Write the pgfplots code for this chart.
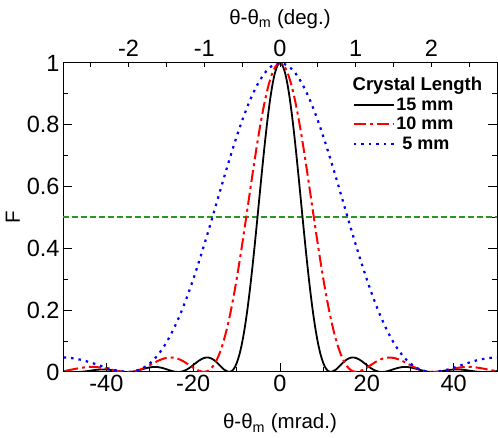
\documentclass[border=0pt]{standalone}
\usepackage{fontspec}
\setmainfont{Liberation Sans}
\usepackage{pgfplots}
\pgfplotsset{compat=1.18}
\usepackage{pgfplotstable}
\pgfplotstableread{
u F
-4.30 0.00359
-4.20 0.00198
-4.10 0.00058
-4.00 0
-3.90 0.00064
-3.80 0.00242
-3.70 0.00484
-3.60 0.00707
-3.50 0.00827
-3.40 0.00793
-3.30 0.00609
-3.20 0.00342
-3.10 0.00101
-3.00 0
-2.90 0.00115
-2.80 0.00447
-2.70 0.00910
-2.60 0.01356
-2.50 0.01621
-2.40 0.01591
-2.30 0.01254
-2.20 0.00723
-2.10 0.00219
-2.00 0
-1.90 0.00268
-1.80 0.01080
-1.70 0.02295
-1.60 0.03580
-1.50 0.04503
-1.40 0.04676
-1.30 0.03924
-1.20 0.02431
-1.10 0.00800
-1.00 0
-0.95 0.00275
-0.90 0.01194
-0.85 0.02890
-0.80 0.05470
-0.75 0.09006
-0.70 0.13534
-0.65 0.19038
-0.60 0.25457
-0.55 0.32675
-0.50 0.40528
-0.45 0.48811
-0.40 0.57279
-0.35 0.65665
-0.30 0.73684
-0.25 0.81057
-0.20 0.87514
-0.15 0.92814
-0.10 0.96753
-0.05 0.99179
0.00 1
0.05 0.99179
0.10 0.96753
0.15 0.92814
0.20 0.87514
0.25 0.81057
0.30 0.73684
0.35 0.65665
0.40 0.57279
0.45 0.48811
0.50 0.40528
0.55 0.32675
0.60 0.25457
0.65 0.19038
0.70 0.13534
0.75 0.09006
0.80 0.05470
0.85 0.02890
0.90 0.01194
0.95 0.00275
1.00 0
1.10 0.00800
1.20 0.02431
1.30 0.03924
1.40 0.04676
1.50 0.04503
1.60 0.03580
1.70 0.02295
1.80 0.01080
1.90 0.00268
2.00 0
2.10 0.00219
2.20 0.00723
2.30 0.01254
2.40 0.01591
2.50 0.01621
2.60 0.01356
2.70 0.00910
2.80 0.00447
2.90 0.00115
3.00 0
3.10 0.00101
3.20 0.00342
3.30 0.00609
3.40 0.00793
3.50 0.00827
3.60 0.00707
3.70 0.00484
3.80 0.00242
3.90 0.00064
4.00 0
4.10 0.00058
4.20 0.00198
4.30 0.00359
}\sinctab
\definecolor{hgreen}{RGB}{40,150,40}
\begin{document}
\begin{tikzpicture}
\begin{axis}[name=main, scale only axis, width=434pt, height=309pt,
  xmin=-50, xmax=50, ymin=0, ymax=1,
  xtick={-40,-20,0,20,40}, minor xtick={-30,-10,10,30},
  ytick={0,0.2,0.4,0.6,0.8,1}, minor ytick={0.1,0.3,0.5,0.7,0.9},
  xtick pos=bottom, ytick pos=both,
  tick align=inside, major tick length=9pt, minor tick length=5pt,
  tick label style={font=\fontsize{23.5}{27}\selectfont},
  /pgf/number format/assume math mode=true,
  label style={font=\fontsize{20.5}{24}\selectfont},
  xlabel={θ-θ\textsubscript{m} (mrad.)}, ylabel={F},
  xlabel style={yshift=-15pt},
  axis line style={line width=1pt},
  every tick/.style={line width=1pt, black},
  legend style={at={(rel axis cs:0.667,0.893)}, anchor=north west, draw=none, fill=none,
    font=\fontsize{18}{19}\selectfont\bfseries, row sep=2.5pt, inner sep=0pt,
    nodes={inner sep=1.5pt}},
  legend cell align=left,
  legend image code/.code={\draw[#1] (0pt,0pt) -- (40pt,0pt);},
]
\addplot[color=hgreen, line width=2pt, dash pattern=on 6pt off 3pt, forget plot] table {
x y
-50 0.5
50 0.5
};
\addplot[black, line width=1.8pt, smooth] table[x expr=\thisrow{u}*11.733, y=F] {\sinctab};
\addlegendentry{15 mm}
\addplot[red, line width=2pt, smooth, dash pattern=on 12pt off 4pt on 3pt off 4pt] table[x expr=\thisrow{u}*17.6, y=F] {\sinctab};
\addlegendentry{10 mm}
\addplot[blue, line width=2.2pt, smooth, dash pattern=on 2.5pt off 5pt] table[x expr=\thisrow{u}*35.2, y=F] {\sinctab};
\addlegendentry{\hspace{6pt}5 mm}
\node[anchor=west, inner sep=0pt, font=\fontsize{18.5}{20}\selectfont\bfseries] at (rel axis cs:0.667,0.925) {Crystal Length};
\end{axis}
\begin{axis}[scale only axis, width=434pt, height=309pt,
  xmin=-2.8648, xmax=2.8648, ymin=0, ymax=1,
  axis x line*=top, axis y line=none,
  xtick={-2,-1,0,1,2}, minor xtick={-2.5,-1.5,-0.5,0.5,1.5,2.5},
  tick align=inside, major tick length=4pt, minor tick length=4pt,
  tick label style={font=\fontsize{23.5}{27}\selectfont},
  xticklabel style={yshift=3pt},
  /pgf/number format/assume math mode=true,
  label style={font=\fontsize{20.5}{24}\selectfont},
  xlabel={θ-θ\textsubscript{m} (deg.)},
  xlabel style={yshift=4pt},
  axis line style={line width=1pt},
  every tick/.style={line width=1pt, black},
]
\addplot[draw=none] coordinates {(-2,0) (2,1)};
\end{axis}
\pgfresetboundingbox
\path[use as bounding box] ([xshift=-63pt,yshift=-66pt]main.south west) rectangle ([xshift=1pt,yshift=63pt]main.north east);
\end{tikzpicture}
\end{document}
